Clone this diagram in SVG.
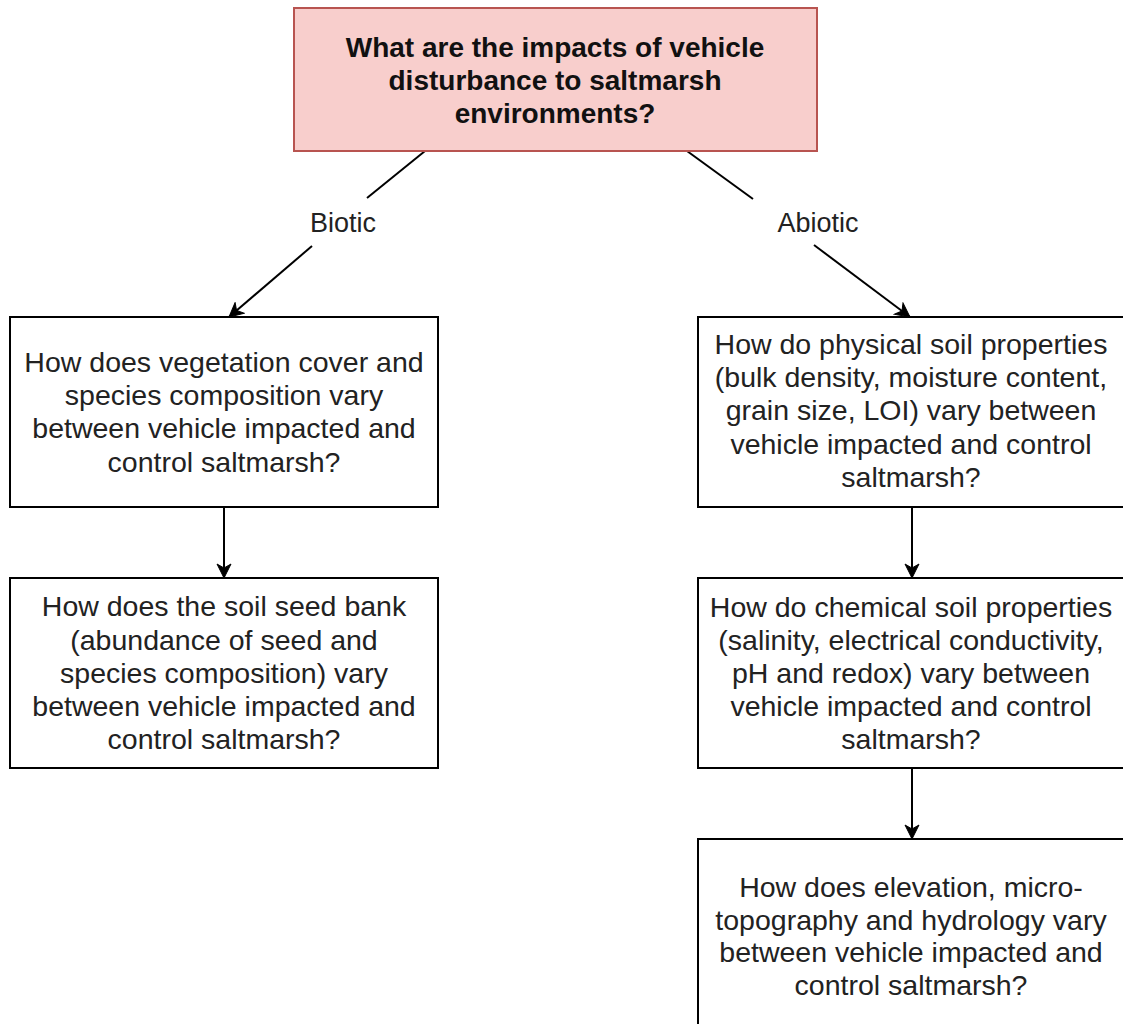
<svg xmlns="http://www.w3.org/2000/svg" width="1123" height="1024" viewBox="0 0 1123 1024">
<style>
.box{fill:#ffffff;stroke:#000000;stroke-width:2}
.top{fill:#f8cecc;stroke:#b85450;stroke-width:2}
.t{font-family:"Liberation Sans",Arial,sans-serif;font-size:28.5px;fill:#222222;text-anchor:middle}
.b{font-family:"Liberation Sans",Arial,sans-serif;font-size:28px;font-weight:bold;fill:#111111;text-anchor:middle}
.lbl{font-family:"Liberation Sans",Arial,sans-serif;font-size:27px;fill:#222222;text-anchor:middle}
.c{fill:none;stroke:#000000;stroke-width:2}
</style>
<defs>
<marker id="arr" markerUnits="userSpaceOnUse" markerWidth="16" markerHeight="16" viewBox="0 0 16 16" refX="15" refY="8" orient="auto">
<path d="M1,1 L15,8 L1,15 L5,8 z" fill="#000000" stroke="#000000" stroke-width="1"/>
</marker>
</defs>
<rect width="1123" height="1024" fill="#ffffff"/>
<g id="connectors">
<line class="c" x1="425" y1="151" x2="367" y2="198"/>
<line class="c" x1="312" y1="246" x2="229" y2="317" marker-end="url(#arr)"/>
<line class="c" x1="687" y1="151" x2="753" y2="199"/>
<line class="c" x1="814" y1="245" x2="910" y2="317" marker-end="url(#arr)"/>
<line class="c" x1="224" y1="507" x2="224" y2="578" marker-end="url(#arr)"/>
<line class="c" x1="912" y1="507" x2="912" y2="578" marker-end="url(#arr)"/>
<line class="c" x1="912" y1="768" x2="912" y2="839" marker-end="url(#arr)"/>
<text class="lbl" x="343" y="232">Biotic</text>
<text class="lbl" x="818" y="232">Abiotic</text>
</g>
<g id="root">
<rect class="top" x="294" y="8" width="523" height="143"/>
<text class="b" x="555" y="57">What are the impacts of vehicle</text>
<text class="b" x="555" y="90">disturbance to saltmarsh</text>
<text class="b" x="555" y="123">environments?</text>
</g>
<g id="vegetation">
<rect class="box" x="10" y="317" width="428" height="190"/>
<text class="t" x="224" y="372">How does vegetation cover and</text>
<text class="t" x="224" y="405">species composition vary</text>
<text class="t" x="224" y="438">between vehicle impacted and</text>
<text class="t" x="224" y="472">control saltmarsh?</text>
</g>
<g id="seedbank">
<rect class="box" x="10" y="578" width="428" height="190"/>
<text class="t" x="224" y="616">How does the soil seed bank</text>
<text class="t" x="224" y="650">(abundance of seed and</text>
<text class="t" x="224" y="683">species composition) vary</text>
<text class="t" x="224" y="716">between vehicle impacted and</text>
<text class="t" x="224" y="749">control saltmarsh?</text>
</g>
<g id="physical">
<rect class="box" x="698" y="317" width="430" height="190"/>
<text class="t" x="911" y="354">How do physical soil properties</text>
<text class="t" x="911" y="387">(bulk density, moisture content,</text>
<text class="t" x="911" y="420">grain size, LOI) vary between</text>
<text class="t" x="911" y="454">vehicle impacted and control</text>
<text class="t" x="911" y="487">saltmarsh?</text>
</g>
<g id="chemical">
<rect class="box" x="698" y="578" width="430" height="190"/>
<text class="t" x="911" y="617">How do chemical soil properties</text>
<text class="t" x="911" y="650">(salinity, electrical conductivity,</text>
<text class="t" x="911" y="683">pH and redox) vary between</text>
<text class="t" x="911" y="716">vehicle impacted and control</text>
<text class="t" x="911" y="749">saltmarsh?</text>
</g>
<g id="elevation">
<rect class="box" x="698" y="839" width="430" height="200"/>
<text class="t" x="911" y="897">How does elevation, micro-</text>
<text class="t" x="911" y="930">topography and hydrology vary</text>
<text class="t" x="911" y="962">between vehicle impacted and</text>
<text class="t" x="911" y="995">control saltmarsh?</text>
</g>
</svg>
